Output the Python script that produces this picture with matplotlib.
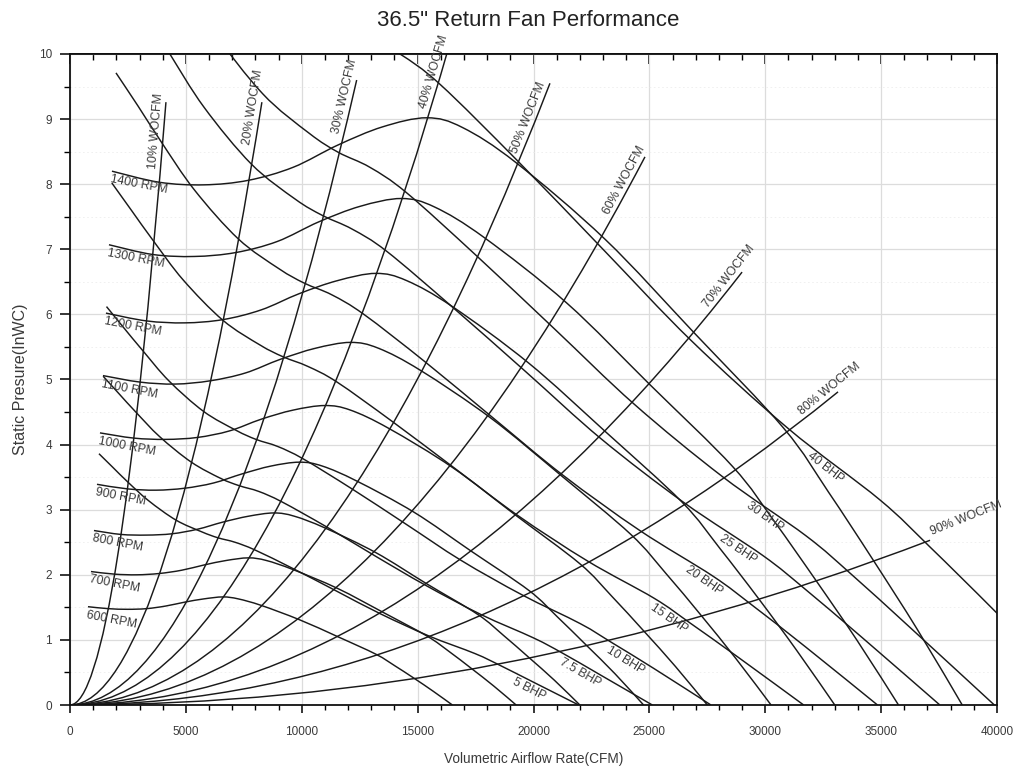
import numpy as np
import matplotlib
matplotlib.use('Agg')
import matplotlib.pyplot as plt
from matplotlib.path import Path
from matplotlib.patches import PathPatch
from matplotlib.ticker import MultipleLocator

plt.rcParams['font.family'] = ['Liberation Sans Narrow', 'Liberation Sans', 'DejaVu Sans']

# fan curves, airflow (CFM) vs static pressure (inWC)
rpm1400_q = [1810, 3850, 5780, 7700, 9630, 11550, 13480, 15400, 16940, 19250, 23100, 26950, 30800, 32730, 34650, 36580, 38500]
rpm1400_p = [8.20, 8.03, 7.99, 8.06, 8.26, 8.60, 8.88, 9.02, 8.87, 8.33, 7.15, 5.71, 4.25, 3.27, 2.23, 1.15, 0.0]
rpm1300_q = [1681, 3575, 5367, 7150, 8942, 10725, 12517, 14300, 15730, 17875, 21450, 25025, 28600, 30392, 32175, 33967, 35750]
rpm1300_p = [7.07, 6.92, 6.89, 6.95, 7.12, 7.42, 7.66, 7.78, 7.65, 7.18, 6.17, 4.92, 3.66, 2.82, 1.92, 0.99, 0.0]
rpm1200_q = [1551, 3300, 4954, 6600, 8254, 9900, 11554, 13200, 14520, 16500, 19800, 23100, 26400, 28054, 29700, 31354, 33000]
rpm1200_p = [6.02, 5.90, 5.87, 5.92, 6.07, 6.32, 6.52, 6.63, 6.52, 6.12, 5.25, 4.20, 3.12, 2.40, 1.64, 0.84, 0.0]
rpm1100_q = [1422, 3025, 4541, 6050, 7566, 9075, 10591, 12100, 13310, 15125, 18150, 21175, 24200, 25716, 27225, 28741, 30250]
rpm1100_p = [5.06, 4.96, 4.93, 4.98, 5.10, 5.31, 5.48, 5.57, 5.48, 5.14, 4.41, 3.53, 2.62, 2.02, 1.38, 0.71, 0.0]
rpm1000_q = [1293, 2750, 4129, 5500, 6879, 8250, 9629, 11000, 12100, 13750, 16500, 19250, 22000, 23379, 24750, 26129, 27500]
rpm1000_p = [4.18, 4.10, 4.08, 4.11, 4.21, 4.39, 4.53, 4.60, 4.53, 4.25, 3.65, 2.91, 2.17, 1.67, 1.14, 0.59, 0.0]
rpm900_q = [1164, 2475, 3716, 4950, 6191, 7425, 8666, 9900, 10890, 12375, 14850, 17325, 19800, 21041, 22275, 23516, 24750]
rpm900_p = [3.39, 3.32, 3.30, 3.33, 3.41, 3.55, 3.67, 3.73, 3.67, 3.44, 2.96, 2.36, 1.76, 1.35, 0.92, 0.48, 0.0]
rpm800_q = [1034, 2200, 3303, 4400, 5503, 6600, 7703, 8800, 9680, 11000, 13200, 15400, 17600, 18703, 19800, 20903, 22000]
rpm800_p = [2.68, 2.62, 2.61, 2.63, 2.70, 2.81, 2.90, 2.95, 2.90, 2.72, 2.34, 1.86, 1.39, 1.07, 0.73, 0.38, 0.0]
rpm700_q = [905, 1925, 2890, 3850, 4815, 5775, 6740, 7700, 8470, 9625, 11550, 13475, 15400, 16365, 17325, 18290, 19250]
rpm700_p = [2.05, 2.01, 2.00, 2.02, 2.07, 2.15, 2.22, 2.26, 2.22, 2.08, 1.79, 1.43, 1.06, 0.82, 0.56, 0.29, 0.0]
rpm600_q = [776, 1650, 2477, 3300, 4127, 4950, 5777, 6600, 7260, 8250, 9900, 11550, 13200, 14027, 14850, 15677, 16500]
rpm600_p = [1.51, 1.48, 1.47, 1.48, 1.52, 1.58, 1.63, 1.66, 1.63, 1.53, 1.31, 1.05, 0.78, 0.60, 0.41, 0.21, 0.0]

# brake horsepower curves
bhp40_q = [2500, 3700, 4960, 6770, 9150, 11370, 12740, 14240, 15980, 19310, 23000, 26800, 30980, 34950, 37100, 40000, 43900]
bhp40_p = [15.42, 14.60, 13.73, 12.56, 11.37, 10.63, 10.29, 10.00, 9.53, 8.36, 7.00, 5.60, 4.25, 3.15, 2.43, 1.41, 0.0]
bhp30_q = [2271, 3362, 4507, 6151, 8313, 10330, 11575, 12938, 14519, 17544, 20897, 24349, 28147, 31754, 33708, 36342, 39886]
bhp30_p = [12.73, 12.05, 11.33, 10.37, 9.39, 8.78, 8.49, 8.26, 7.87, 6.90, 5.78, 4.62, 3.51, 2.60, 2.01, 1.16, 0.0]
bhp25_q = [2138, 3164, 4241, 5788, 7823, 9721, 10893, 12175, 13663, 16510, 19665, 22914, 26488, 29882, 31720, 34200, 37534]
bhp25_p = [11.27, 10.67, 10.04, 9.18, 8.31, 7.77, 7.52, 7.31, 6.97, 6.11, 5.12, 4.09, 3.11, 2.30, 1.78, 1.03, 0.0]
bhp20_q = [1984, 2937, 3937, 5373, 7262, 9024, 10112, 11302, 12683, 15326, 18255, 21271, 24589, 27740, 29446, 31748, 34843]
bhp20_p = [9.71, 9.20, 8.65, 7.91, 7.16, 6.70, 6.48, 6.30, 6.00, 5.27, 4.41, 3.53, 2.68, 1.98, 1.53, 0.89, 0.0]
bhp15_q = [1803, 2668, 3577, 4882, 6598, 8199, 9187, 10269, 11524, 13925, 16586, 19326, 22340, 25203, 26754, 28845, 31657]
bhp15_p = [8.02, 7.59, 7.14, 6.53, 5.91, 5.53, 5.35, 5.20, 4.96, 4.35, 3.64, 2.91, 2.21, 1.64, 1.26, 0.73, 0.0]
bhp10_q = [1575, 2331, 3125, 4265, 5764, 7163, 8026, 8971, 10067, 12165, 14489, 16883, 19516, 22017, 23372, 25198, 27655]
bhp10_p = [6.12, 5.79, 5.45, 4.98, 4.51, 4.22, 4.08, 3.97, 3.78, 3.32, 2.78, 2.22, 1.69, 1.25, 0.96, 0.56, 0.0]
bhp7_5_q = [1431, 2118, 2839, 3875, 5237, 6508, 7292, 8150, 9146, 11052, 13164, 15339, 17732, 20004, 21235, 22894, 25127]
bhp7_5_p = [5.05, 4.78, 4.50, 4.12, 3.73, 3.48, 3.37, 3.28, 3.12, 2.74, 2.29, 1.84, 1.39, 1.03, 0.80, 0.46, 0.0]
bhp5_q = [1250, 1850, 2480, 3385, 4575, 5685, 6370, 7120, 7990, 9655, 11500, 13400, 15490, 17475, 18550, 20000, 21950]
bhp5_p = [3.86, 3.65, 3.43, 3.14, 2.84, 2.66, 2.57, 2.50, 2.38, 2.09, 1.75, 1.40, 1.06, 0.79, 0.61, 0.35, 0.0]

# system curves (parabolas from the origin), read end points
wocfm_labels = ['10% WOCFM', '20% WOCFM', '30% WOCFM', '40% WOCFM', '50% WOCFM',
                '60% WOCFM', '70% WOCFM', '80% WOCFM', '90% WOCFM']
wocfm_end_q = [4140, 8280, 12370, 16500, 20710, 24810, 29000, 33140, 37110]
wocfm_end_p = [9.26, 9.26, 9.60, 10.30, 9.55, 8.42, 6.65, 4.81, 2.53]

rpm_labels = ['600 RPM', '700 RPM', '800 RPM', '900 RPM', '1000 RPM',
              '1100 RPM', '1200 RPM', '1300 RPM', '1400 RPM']
bhp_labels = ['5 BHP', '7.5 BHP', '10 BHP', '15 BHP', '20 BHP', '25 BHP', '30 BHP', '40 BHP']
bhp_label_q = [19950, 22200, 24150, 26050, 27550, 29050, 30200, 32800]
wocfm_label_t = [0.975, 0.995, 0.985, 0.97, 0.97, 0.975, 0.99, 0.995, 1.045]

x_ticks = [0, 5000, 10000, 15000, 20000, 25000, 30000, 35000, 40000]
y_ticks = [0, 1, 2, 3, 4, 5, 6, 7, 8, 9, 10]

fan_curves = [(rpm600_q, rpm600_p), (rpm700_q, rpm700_p), (rpm800_q, rpm800_p),
              (rpm900_q, rpm900_p), (rpm1000_q, rpm1000_p), (rpm1100_q, rpm1100_p),
              (rpm1200_q, rpm1200_p), (rpm1300_q, rpm1300_p), (rpm1400_q, rpm1400_p)]
bhp_curves = [(bhp5_q, bhp5_p), (bhp7_5_q, bhp7_5_p), (bhp10_q, bhp10_p),
              (bhp15_q, bhp15_p), (bhp20_q, bhp20_p), (bhp25_q, bhp25_p),
              (bhp30_q, bhp30_p), (bhp40_q, bhp40_p)]

line_color = '#1a1a1a'
text_color = '#3a3a3a'
lw = 1.05

fig = plt.figure(figsize=(10.19, 7.69), dpi=100)
ax = fig.add_axes([70 / 1019, 1 - 705 / 769, 927 / 1019, 651 / 769])
ax.set_xlim(0, 40000)
ax.set_ylim(0, 10)

# grid
ax.xaxis.set_major_locator(MultipleLocator(5000))
ax.xaxis.set_minor_locator(MultipleLocator(1000))
ax.yaxis.set_major_locator(MultipleLocator(1))
ax.yaxis.set_minor_locator(MultipleLocator(0.5))
ax.grid(which='major', color='#dcdcdc', lw=0.9)
ax.grid(which='minor', axis='y', color='#eeeeee', lw=0.6, ls=(0, (2, 3)))
ax.set_axisbelow(True)


def smooth_path(xs, ys):
    # cubic bezier pieces through the read points (catmull-rom tangents)
    pts = np.column_stack([xs, ys]).astype(float)
    ext = np.vstack([pts[0], pts, pts[-1]])
    verts = [pts[0]]
    codes = [Path.MOVETO]
    for i in range(len(pts) - 1):
        p0, p1, p2, p3 = ext[i], ext[i + 1], ext[i + 2], ext[i + 3]
        verts += [p1 + (p2 - p0) / 6, p2 - (p3 - p1) / 6, p2]
        codes += [Path.CURVE4] * 3
    return Path(verts, codes)


for q, p in fan_curves + bhp_curves:
    ax.add_patch(PathPatch(smooth_path(q, p), fill=False, ec=line_color, lw=lw))
for qe, pe in zip(wocfm_end_q, wocfm_end_p):
    path = Path([(0, 0), (qe / 2, 0), (qe, pe)], [Path.MOVETO, Path.CURVE3, Path.CURVE3])
    ax.add_patch(PathPatch(path, fill=False, ec=line_color, lw=lw))


def screen_angle(x0, y0, x1, y1):
    a = ax.transData.transform([(x0, y0), (x1, y1)])
    d = a[1] - a[0]
    return np.degrees(np.arctan2(d[1], d[0]))


label_font = dict(fontsize=8.8, color=text_color)

# RPM labels at the start of each fan curve
for (q, p), lab in zip(fan_curves, rpm_labels):
    ax.annotate(lab, xy=(q[0], p[0]), xytext=(0, -1.5), textcoords='offset points',
                ha='left', va='top', rotation=-11, rotation_mode='anchor', **label_font)

# WOCFM labels along the end of each system curve
for lab, qe, pe, t in zip(wocfm_labels, wocfm_end_q, wocfm_end_p, wocfm_label_t):
    x, y = qe * t, pe * t * t
    ang = screen_angle(x, y, x + qe * 0.01, y + 2 * pe * t * 0.01)
    r = np.radians(ang)
    off = 5.5
    ax.annotate(lab, xy=(x, y), xytext=(-np.sin(r) * off, np.cos(r) * off),
                textcoords='offset points', ha='center', va='center',
                rotation=ang, rotation_mode='anchor', annotation_clip=False, **label_font)

# BHP labels below each power curve
for (q, p), lab, lq in zip(bhp_curves, bhp_labels, bhp_label_q):
    y = np.interp(lq, q, p)
    y2 = np.interp(lq + 500, q, p)
    ang = screen_angle(lq, y, lq + 500, y2)
    r = np.radians(ang)
    off = 6
    ax.annotate(lab, xy=(lq, y), xytext=(np.sin(r) * off, -np.cos(r) * off),
                textcoords='offset points', ha='center', va='center',
                rotation=ang, rotation_mode='anchor', **label_font)

# axes styling
for s in ax.spines.values():
    s.set_linewidth(1.3)
    s.set_color('#111111')
ax.set_xticks(x_ticks)
ax.set_xticklabels([str(v) for v in x_ticks])
ax.set_yticks(y_ticks)
ax.set_yticklabels([str(v) for v in y_ticks])
ax.tick_params(axis='x', which='major', direction='out', length=6, width=1.1, pad=9,
               labelsize=8.5, labelcolor=text_color, top=False)
ax.tick_params(axis='x', which='minor', direction='out', length=3.5, width=1.0, top=False)
ax.tick_params(axis='y', which='major', direction='out', length=7, width=1.1, pad=6,
               labelsize=8.5, labelcolor=text_color, right=False)
ax.tick_params(axis='y', which='minor', direction='out', length=4.5, width=1.0, right=False)

top = ax.secondary_xaxis('top')
top.xaxis.set_major_locator(MultipleLocator(5000))
top.xaxis.set_minor_locator(MultipleLocator(1000))
top.tick_params(which='major', direction='in', length=7, width=1.1, labeltop=False)
top.tick_params(which='minor', direction='in', length=4.5, width=1.0)
top.spines['top'].set_linewidth(1.3)

ax.set_xlabel('Volumetric Airflow Rate(CFM)', fontsize=9.8, color=text_color, labelpad=10)
ax.set_ylabel('Static Presure(InWC)', fontsize=11.5, color=text_color, labelpad=8)
fig.text(528 / 1019, 1 - 20 / 769, '36.5" Return Fan Performance', ha='center', va='center',
         fontsize=16, color='#222222')

fig.savefig('out.png', dpi=100, facecolor='white')
